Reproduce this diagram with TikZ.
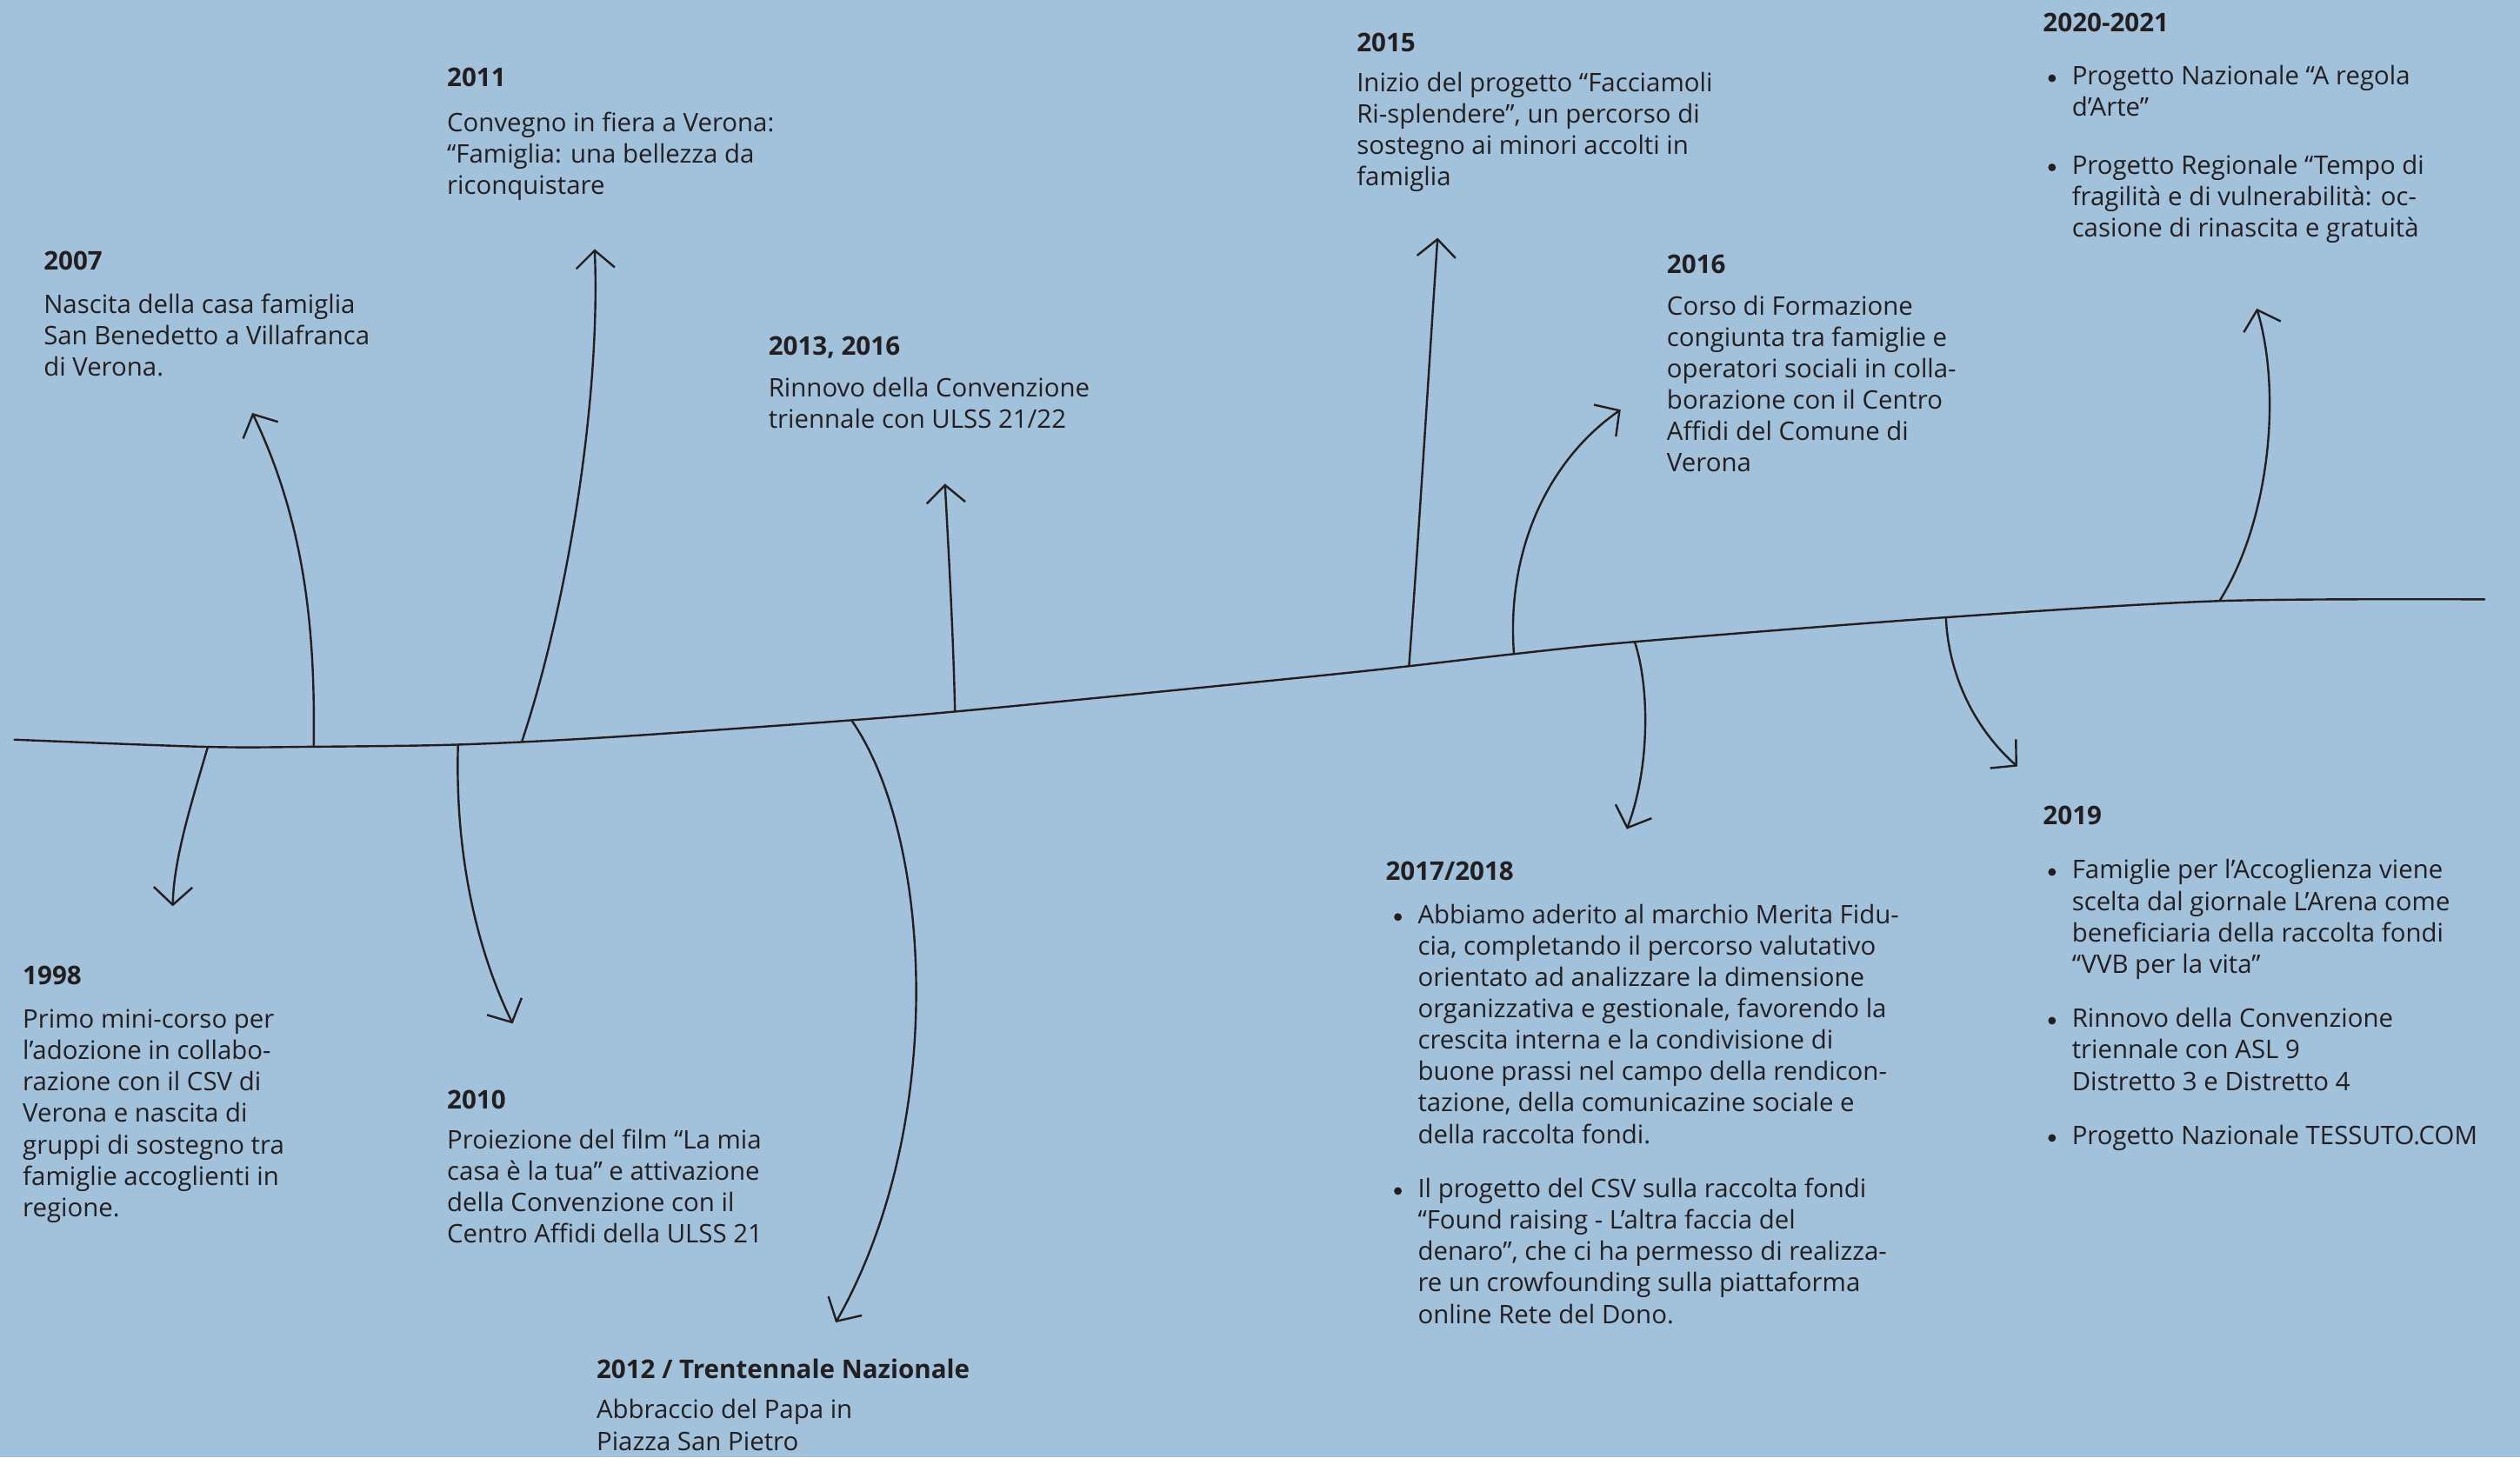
\documentclass[tikz,border=0pt]{standalone}
\usepackage{fontspec}
\setmainfont{Open Sans}
\usetikzlibrary{arrows.meta}
\definecolor{bg}{RGB}{162,193,219}
\definecolor{ink}{RGB}{35,31,32}
\newcommand{\bul}{\llap{\raisebox{4.3pt}{\tikz[baseline]\fill[ink] (0pt,0pt) circle (2.4pt);}\hspace{10pt}}}
\begin{document}
\begin{tikzpicture}[x=1pt,y=-1pt,
  tline/.style={ink, line width=1.3pt, line cap=round, line join=round},
  arr/.style={tline, -{Straight Barb[length=11pt,width=24pt]}},
  yr/.style={anchor=base west, inner sep=0pt, text=ink, font=\fontsize{16}{19.5}\selectfont\bfseries},
  txt/.style={anchor=base west, inner sep=0pt, text=ink, font=\fontsize{15.9}{19.5}\selectfont}]
\fill[bg] (0,0) rectangle (1568,907);
\useasboundingbox (0,0) rectangle (1568,907);

% timeline
\draw[tline] plot[smooth, tension=0.5] coordinates {(9,460.3) (129.3,464.8) (195.2,464.7) (285,463.4) (378.8,458.8) (529.8,448.2) (622.3,440.2) (838.7,418.7) (942,407) (1017.2,399.4) (1210.8,384.2) (1381,374) (1546,373)};

% points on the timeline
\coordinate (s1998) at (129.3,464.8);
\coordinate (s2007) at (195.2,464.7);
\coordinate (s2010) at (285,463.4);
\coordinate (s2011) at (324.8,461.2);
\coordinate (s2012) at (529.8,448.2);
\coordinate (s2013) at (594.2,442.6);
\coordinate (s2015) at (876.7,414.5);
\coordinate (s2016) at (942,407);
\coordinate (s2017) at (1017.2,399.6);
\coordinate (s2019) at (1210.8,384.2);
\coordinate (s2020) at (1381,374);

% arrow tips
\coordinate (t1998) at (107.5,564);
\coordinate (t2007) at (157,257);
\coordinate (t2010) at (319,637);
\coordinate (t2011) at (370,155);
\coordinate (t2012) at (520,823);
\coordinate (t2013) at (588,301);
\coordinate (t2015) at (894.5,148);
\coordinate (t2016) at (1008.4,255);
\coordinate (t2017) at (1012.2,516);
\coordinate (t2019) at (1255.2,477);
\coordinate (t2020) at (1404.2,192);

% branches
\draw[arr] (s1998) .. controls (119,500) and (108,535) .. (t1998);
\draw[arr] (s2007) .. controls (196,400) and (192,330) .. (t2007);
\draw[arr] (s2010) .. controls (283,530) and (296,590) .. (t2010);
\draw[arr] (s2011) .. controls (352,380) and (374,250) .. (t2011);
\draw[arr] (s2012) .. controls (580,520) and (590,700) .. (t2012);
\draw[arr] (s2013) .. controls (593,390) and (590,340) .. (t2013);
\draw[arr] (s2015) .. controls (883,330) and (889,230) .. (t2015);
\draw[arr] (s2016) .. controls (937,340) and (965,285) .. (t2016);
\draw[arr] (s2017) .. controls (1027,430) and (1026,480) .. (t2017);
\draw[arr] (s2019) .. controls (1212,415) and (1225,450) .. (t2019);
\draw[arr] (s2020) .. controls (1412,325) and (1420,245) .. (t2020);

% texts above
\node[yr] (y2007) at (27,168) {2007};
\node[txt] (b2007) at (27,195) {\begin{tabular}[t]{@{}l@{}}Nascita della casa famiglia\\San Benedetto a Villafranca\\di Verona.\end{tabular}};

\node[yr] (y2011) at (278,54) {2011};
\node[txt] (b2011) at (278,82) {\begin{tabular}[t]{@{}l@{}}Convegno in fiera a Verona:\\“Famiglia: una bellezza da\\riconquistare\end{tabular}};

\node[yr] (y2013) at (478,221) {2013, 2016};
\node[txt] (b2013) at (478,247) {\begin{tabular}[t]{@{}l@{}}Rinnovo della Convenzione\\triennale con ULSS 21/22\end{tabular}};

\node[yr] (y2015) at (844,32) {2015};
\node[txt] (b2015) at (844,57) {\begin{tabular}[t]{@{}l@{}}Inizio del progetto “Facciamoli\\Ri-splendere”, un percorso di\\sostegno ai minori accolti in\\famiglia\end{tabular}};

\node[yr] (y2016) at (1037,170) {2016};
\node[txt] (b2016) at (1037,196) {\begin{tabular}[t]{@{}l@{}}Corso di Formazione\\congiunta tra famiglie e\\operatori sociali in colla-\\borazione con il Centro\\Affidi del Comune di\\Verona\end{tabular}};

\node[yr] (y2020) at (1271,20) {2020-2021};
\node[txt] (b2020) at (1289,53) {\begin{tabular}[t]{@{}l@{}}\bul Progetto Nazionale “A regola\\d’Arte”\\[16.5pt]\bul Progetto Regionale “Tempo di\\fragilità e di vulnerabilità: oc-\\casione di rinascita e gratuità\end{tabular}};

% texts below
\node[yr] (y1998) at (14,613) {1998};
\node[txt] (b1998) at (14,640) {\begin{tabular}[t]{@{}l@{}}Primo mini-corso per\\l’adozione in collabo-\\razione con il CSV di\\Verona e nascita di\\gruppi di sostegno tra\\famiglie accoglienti in\\regione.\end{tabular}};

\node[yr] (y2010) at (278,690) {2010};
\node[txt] (b2010) at (278,715) {\begin{tabular}[t]{@{}l@{}}Proiezione del film “La mia\\casa è la tua” e attivazione\\della Convenzione con il\\Centro Affidi della ULSS 21\end{tabular}};

\node[yr] (y2012) at (371,858) {2012 / Trentennale Nazionale};
\node[txt] (b2012) at (371,883) {\begin{tabular}[t]{@{}l@{}}Abbraccio del Papa in\\Piazza San Pietro\end{tabular}};

\node[yr] (y2017) at (862,548) {2017/2018};
\node[txt] (b2017) at (882,575) {\begin{tabular}[t]{@{}l@{}}\bul Abbiamo aderito al marchio Merita Fidu-\\cia, completando il percorso valutativo\\orientato ad analizzare la dimensione\\organizzativa e gestionale, favorendo la\\crescita interna e la condivisione di\\buone prassi nel campo della rendicon-\\tazione, della comunicazine sociale e\\della raccolta fondi.\\[14.5pt]\bul Il progetto del CSV sulla raccolta fondi\\“Found raising - L’altra faccia del\\denaro”, che ci ha permesso di realizza-\\re un crowfounding sulla piattaforma\\online Rete del Dono.\end{tabular}};

\node[yr] (y2019) at (1271,513) {2019};
\node[txt] (b2019) at (1289,547) {\begin{tabular}[t]{@{}l@{}}\bul Famiglie per l’Accoglienza viene\\scelta dal giornale L’Arena come\\beneficiaria della raccolta fondi\\“VVB per la vita”\\[14.5pt]\bul Rinnovo della Convenzione\\triennale con ASL 9\\Distretto 3 e Distretto 4\\[14.5pt]\bul Progetto Nazionale TESSUTO.COM\end{tabular}};
\end{tikzpicture}
\end{document}
